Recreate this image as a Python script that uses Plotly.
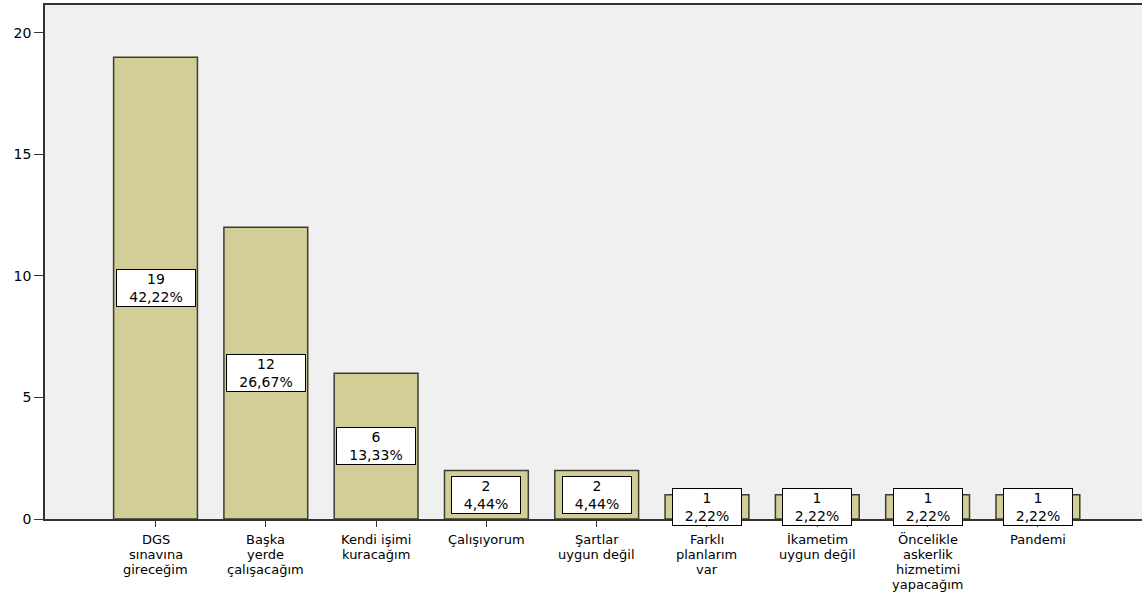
import plotly.graph_objects as go

categories = [
    "DGS<br>sınavına<br>gireceğim",
    "Başka<br>yerde<br>çalışacağım",
    "Kendi işimi<br>kuracağım",
    "Çalışıyorum",
    "Şartlar<br>uygun değil",
    "Farklı<br>planlarım<br>var",
    "İkametim<br>uygun değil",
    "Öncelikle<br>askerlik<br>hizmetimi<br>yapacağım",
    "Pandemi",
]
counts = [19, 12, 6, 2, 2, 1, 1, 1, 1]
percent_labels = ["42,22%", "26,67%", "13,33%", "4,44%", "4,44%",
                  "2,22%", "2,22%", "2,22%", "2,22%"]
y_ticks = [0, 5, 10, 15, 20]

FONT = "DejaVu Sans"
xs = list(range(len(categories)))

fig = go.Figure()
fig.add_trace(go.Bar(
    x=xs, y=counts, width=0.76,
    marker=dict(color="#d3ce98", line=dict(color="#3c3c30", width=1.5)),
    hoverinfo="skip",
))

for i, (v, p) in enumerate(zip(counts, percent_labels)):
    fig.add_annotation(
        x=i, y=v / 2, xref="x", yref="y",
        text=f"{v}<br>{p}", showarrow=False,
        bgcolor="white", bordercolor="black", borderwidth=1, borderpad=1,
        width=76 if v >= 6 else 66, height=34,
        font=dict(family=FONT, size=14, color="black"),
    )

# category labels drawn line by line for tight line spacing
for i, cat in enumerate(categories):
    for j, line in enumerate(cat.split("<br>")):
        fig.add_annotation(
            x=i, y=0, xref="x", yref="y", yanchor="middle",
            yshift=-(20 + 15 * j), text=line, showarrow=False,
            borderpad=0,
            font=dict(family=FONT, size=13, color="black"),
        )

fig.update_layout(
    width=1142, height=593,
    margin=dict(l=45, r=0, t=5, b=74),
    paper_bgcolor="white", plot_bgcolor="#f0f0f0",
    showlegend=False,
    font=dict(family=FONT, size=14, color="black"),
)
fig.update_xaxes(
    range=[-1.002, 8.944], tickmode="array", tickvals=xs,
    showticklabels=False,
    showline=True, linecolor="#333333", linewidth=1.5, mirror=True,
    ticks="outside", ticklen=6, tickcolor="#333333",
    showgrid=False, zeroline=False,
)
fig.update_yaxes(
    range=[0, 21.15], tickmode="array", tickvals=y_ticks,
    showline=True, linecolor="#333333", linewidth=1.5,
    ticks="outside", ticklen=9, tickcolor="#333333",
    showgrid=False, zeroline=False,
    tickfont=dict(family=FONT, size=14, color="black"),
)

fig.write_html("out.html", config={"displayModeBar": False},
               post_script="document.body.style.margin='0';")
